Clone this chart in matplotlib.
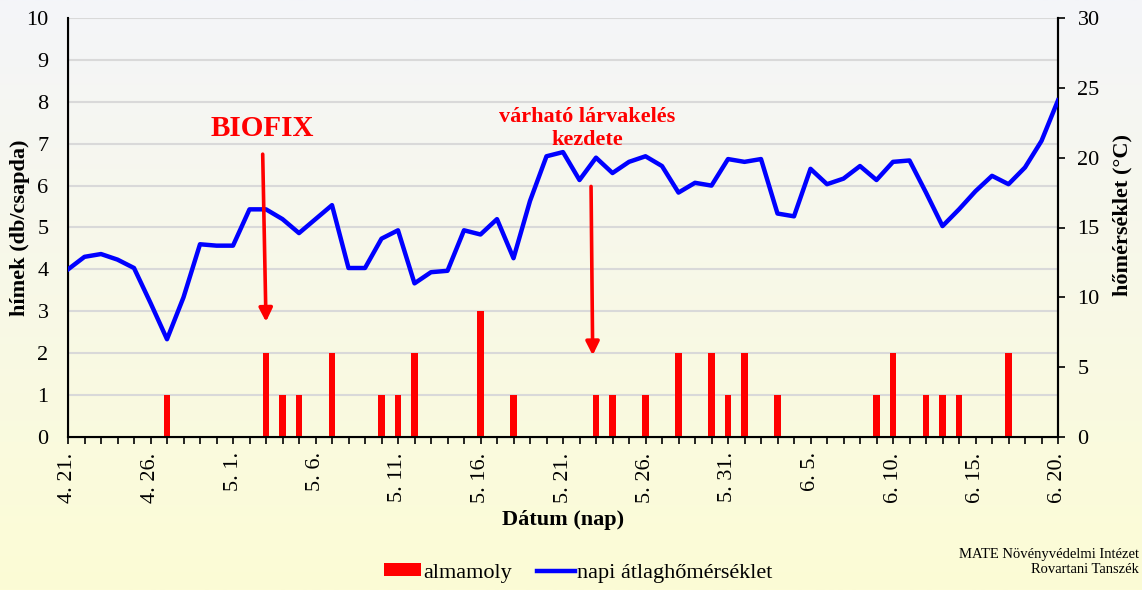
import numpy as np
import pandas as pd
import matplotlib
matplotlib.use("Agg")
import matplotlib.pyplot as plt
from matplotlib.patches import Patch
from matplotlib.lines import Line2D

plt.rcParams['font.family'] = ['Liberation Serif', 'DejaVu Serif']

# napok: 4.21. - 6.20.
days = pd.date_range("2024-04-21", "2024-06-20", freq="D")

# napi atlaghomerseklet (°C)
temps = [12.0, 12.9, 13.1, 12.7, 12.1, 9.6, 7.0, 10.0, 13.8, 13.7,
         13.7, 16.3, 16.3, 15.6, 14.6, 15.6, 16.6, 12.1, 12.1, 14.2,
         14.8, 11.0, 11.8, 11.9, 14.8, 14.5, 15.6, 12.8, 16.9, 20.1,
         20.4, 18.4, 20.0, 18.9, 19.7, 20.1, 19.4, 17.5, 18.2, 18.0,
         19.9, 19.7, 19.9, 16.0, 15.8, 19.2, 18.1, 18.5, 19.4, 18.4,
         19.7, 19.8, 17.5, 15.1, 16.3, 17.6, 18.7, 18.1, 19.3, 21.2,
         24.1]

# almamoly fogasok (db/csapda)
catch_dates = ["04-27", "05-03", "05-04", "05-05", "05-07", "05-10", "05-11",
               "05-12", "05-16", "05-18", "05-23", "05-24", "05-26", "05-28",
               "05-30", "05-31", "06-01", "06-03", "06-09", "06-10", "06-12",
               "06-13", "06-14", "06-17"]
catch_counts = [1, 2, 1, 1, 2, 1, 1, 2, 3, 1, 1, 1, 1, 2, 2, 1, 2, 1, 1, 2,
                1, 1, 1, 2]

x = np.arange(len(days))
catches = np.zeros(len(days))
for d, c in zip(catch_dates, catch_counts):
    catches[list(days.strftime("%m-%d")).index(d)] = c

W, H = 1142, 590
fig = plt.figure(figsize=(W / 100, H / 100), dpi=100)

# hatter szinatmenet
bg = fig.add_axes([0, 0, 1, 1], zorder=-10)
top_c = np.array([244, 245, 249]) / 255
bot_c = np.array([252, 252, 213]) / 255
t = np.linspace(0, 1, 256)[:, None]
grad = top_c[None, :] * (1 - t) + bot_c[None, :] * t
bg.imshow(grad[:, None, :], aspect='auto', extent=[0, 1, 0, 1])
bg.axis('off')

ax = fig.add_axes([68 / W, 1 - 437 / H, 990 / W, 419 / H])
ax.set_facecolor('none')
ax.bar(x, catches, width=0.38, color='#FF0000', zorder=2)
ax.set_xlim(0, len(days) - 1)
ax.set_ylim(0, 10)
ax.set_yticks(range(0, 11))
ax.grid(axis='y', color='#D9D9D9', linewidth=1.5)
ax.set_axisbelow(True)
ax.tick_params(axis='y', length=0, pad=14, labelsize=16)
ax.set_xticks(x)
ax.set_xticklabels([f"{d.month}. {d.day}." if i % 5 == 0 else ""
                    for i, d in enumerate(days)], rotation=90, fontsize=16)
ax.tick_params(axis='x', direction='out', length=5, width=1.2, pad=6)
ax.spines['top'].set_visible(False)
for s in ['left', 'bottom', 'right']:
    ax.spines[s].set_linewidth(1.5)

ax2 = ax.twinx()
ax2.plot(x, temps, color='#0000FF', linewidth=3.2, zorder=3)
ax2.set_ylim(0, 30)
ax2.set_yticks(range(0, 31, 5))
ax2.tick_params(axis='y', direction='out', length=5, width=1.2, pad=9, labelsize=16)
ax2.spines['top'].set_visible(False)
ax2.spines['right'].set_linewidth(1.5)

# feliratok es nyilak
arrow = dict(arrowstyle='-|>', color='#FF0000', lw=2.6, mutation_scale=20,
             shrinkA=0, shrinkB=0)
ax2.annotate('', xy=(12.0, 2.75), xycoords=ax.transData,
             xytext=(11.8, 6.75), textcoords=ax.transData, arrowprops=arrow)
ax2.annotate('', xy=(31.8, 1.95), xycoords=ax.transData,
             xytext=(31.7, 5.98), textcoords=ax.transData, arrowprops=arrow)
ax2.text(11.75, 7.37, "BIOFIX", transform=ax.transData, ha='center',
         va='center', color='#FF0000', fontsize=21, fontweight='bold')
ax2.text(31.45, 7.36, "várható lárvakelés\nkezdete", transform=ax.transData,
         ha='center', va='center', color='#FF0000', fontsize=16,
         fontweight='bold', linespacing=1.15)

fig.text(20 / W, 1 - 228 / H, "hímek (db/csapda)", rotation=90, ha='center',
         va='center', fontsize=16, fontweight='bold')
fig.text(1122 / W, 1 - 215 / H, "hőmérséklet (°C)", rotation=90, ha='center',
         va='center', fontsize=16, fontweight='bold')
fig.text(563 / W, 1 - 520 / H, "Dátum (nap)", ha='center', va='center',
         fontsize=16, fontweight='bold')

handles = [Patch(facecolor='#FF0000', edgecolor='none'),
           Line2D([0], [0], color='#0000FF', linewidth=3.2)]
fig.legend(handles, ["almamoly", "napi átlaghőmérséklet"], ncol=2,
           loc='center', bbox_to_anchor=(578 / W, 1 - 573 / H), frameon=False,
           fontsize=16, handlelength=1.7, handleheight=0.5, handletextpad=0.1,
           columnspacing=1.1)

fig.text(1139 / W, 1 - 562 / H, "MATE Növényvédelmi Intézet\nRovartani Tanszék",
         ha='right', va='center', multialignment='right', fontsize=10.5,
         linespacing=1.25)

fig.savefig("out.png", dpi=100)
